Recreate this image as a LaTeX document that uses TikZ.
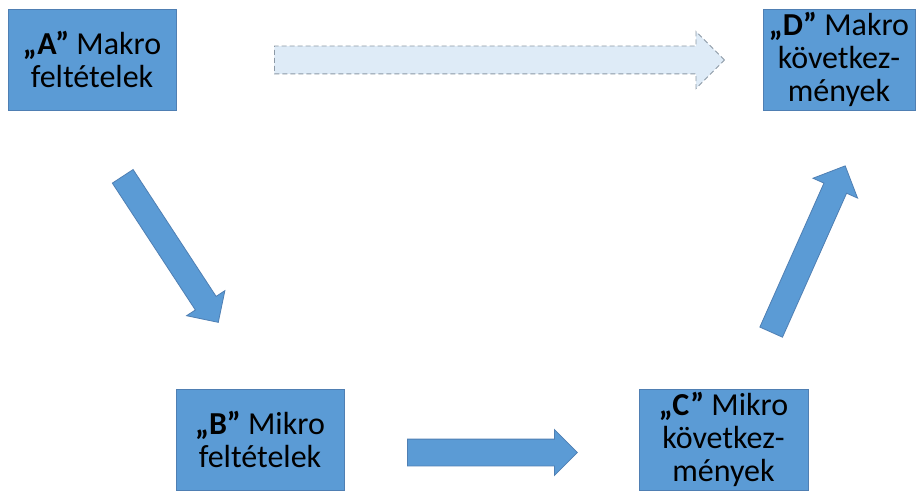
\documentclass[tikz,border=0pt]{standalone}
\usepackage{fontspec}
\setmainfont{Carlito}
\usetikzlibrary{shapes.arrows}
\definecolor{boxblue}{HTML}{5B9BD5}
\definecolor{boxedge}{HTML}{4F7FB3}
\definecolor{paleblue}{HTML}{DEEBF7}
\definecolor{dashgray}{HTML}{8C99A6}
\begin{document}
\begin{tikzpicture}[x=1pt,y=-1pt,
  box/.style={draw=boxedge, line width=0.8pt, fill=boxblue, minimum height=101pt,
    inner sep=0pt, align=center, font=\fontsize{32}{33}\selectfont, text=black},
  blockarrow/.style={single arrow, draw=boxedge, line width=0.8pt, fill=boxblue,
    inner xsep=0pt, single arrow tip angle=90, anchor=tail},
  ghostarrow/.style={single arrow, draw=dashgray, dash pattern=on 5pt off 3pt, line width=0.9pt, fill=paleblue,
    inner xsep=0pt, single arrow tip angle=90, anchor=tail}]
\useasboundingbox[fill=white] (0,0) rectangle (920,492);

\node[box, minimum width=168pt] (A) at (92,59.5) {\textbf{„A”} Makro\\feltételek};
\node[box, minimum width=152pt] (D) at (839,59.5) {\textbf{„D”} Makro\\következ-\\mények};
\node[box, minimum width=168pt] (B) at (260,439.5) {\textbf{„B”} Mikro\\feltételek};
\node[box, minimum width=169pt] (C) at (723.5,439.5) {\textbf{„C”} Mikro\\következ-\\mények};

\coordinate (tAD) at (274,60);
\coordinate (tBC) at (407,452.5);
\coordinate (tAB) at (122.5,176);
\coordinate (tCD) at (771,332.5);

\node[ghostarrow, inner ysep=13.5pt, single arrow head extend=14.5pt, minimum height=450pt]
  (AD) at (tAD) {};
\node[blockarrow, inner ysep=13pt, single arrow head extend=9.5pt, minimum height=170pt]
  (BC) at (tBC) {};
\node[blockarrow, inner ysep=12pt, single arrow head extend=10.5pt, minimum height=174.5pt, rotate=-56.8]
  (AB) at (tAB) {};
\node[blockarrow, inner ysep=12pt, single arrow head extend=12pt, minimum height=182pt, rotate=66]
  (CD) at (tCD) {};
\end{tikzpicture}
\end{document}
